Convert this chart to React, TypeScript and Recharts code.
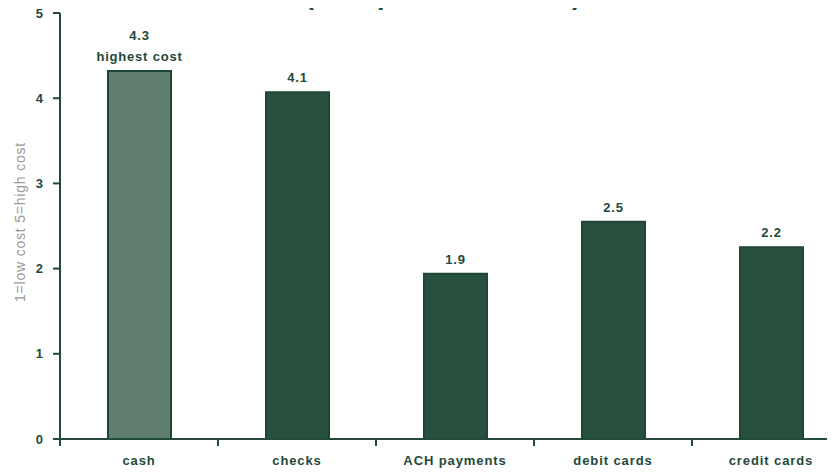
import { BarChart, Bar, XAxis, YAxis, Cell, LabelList } from 'recharts';

const categories = ['cash', 'checks', 'ACH payments', 'debit cards', 'credit cards'];
const costValues = [4.32, 4.07, 1.94, 2.55, 2.25];
const valueLabels = ['4.3', '4.1', '1.9', '2.5', '2.2'];
const yTicks = [0, 1, 2, 3, 4, 5];

const DARK = '#22493a';
const BAR = '#28503f';
const BAR_LIGHT = '#5f7e6d';
const FONT = '"Liberation Sans", Arial, sans-serif';

const CHART_W = 860;
const CHART_H = 476;
const AXIS_W = 60;
const RIGHT = 10;
const BAND = (CHART_W - AXIS_W - RIGHT) / categories.length;

const data = categories.map((name, i) => ({ name, cost: costValues[i], label: valueLabels[i] }));

// tick marks sit between categories, not under them
const CategoryTick = ({ x, y, payload }: any) => {
    const left = x - BAND / 2;
    return (
        <g>
            <line x1={left} y1={y - 8} x2={left} y2={y - 1} stroke={DARK} strokeWidth={2} />
            <text
                x={x}
                y={y + 18}
                textAnchor="middle"
                fill={DARK}
                style={{ fontFamily: FONT, fontSize: 13, fontWeight: 700, letterSpacing: 0.9 }}
            >
                {payload.value}
            </text>
        </g>
    );
};

const ValueLabel = ({ x, y, width, index }: any) => {
    const cx = x + width / 2;
    const style = { fontFamily: FONT, fontSize: 13, fontWeight: 700, letterSpacing: 0.8 };
    if (index === 0) {
        return (
            <g>
                <text x={cx} y={y - 31} textAnchor="middle" fill={DARK} style={style}>{valueLabels[index]}</text>
                <text x={cx} y={y - 10} textAnchor="middle" fill={DARK} style={style}>highest cost</text>
            </g>
        );
    }
    return (
        <text x={cx} y={y - 10} textAnchor="middle" fill={DARK} style={style}>{valueLabels[index]}</text>
    );
};

const AxisTitle = ({ viewBox }: any) => {
    const cx = 20;
    const cy = viewBox.y + viewBox.height / 2 - 4;
    return (
        <text
            x={cx}
            y={cy}
            transform={`rotate(-90 ${cx} ${cy})`}
            textAnchor="middle"
            dominantBaseline="central"
            fill="#9a9a9a"
            style={{ fontFamily: FONT, fontSize: 14, letterSpacing: 0.8 }}
        >
            1=low cost  5=high cost
        </text>
    );
};

export default function App() {
    return (
        <div style={{ position: 'relative', margin: -8, width: 835, height: 476, overflow: 'hidden', background: '#fff' }}>
            {/* title sits mostly above the visible area, as in the original crop */}
            <div
                style={{
                    position: 'absolute',
                    top: -18,
                    left: 0,
                    width: 886,
                    textAlign: 'center',
                    fontFamily: FONT,
                    fontSize: 27,
                    lineHeight: '27px',
                    fontWeight: 700,
                    color: DARK,
                    whiteSpace: 'nowrap',
                }}
            >
                (cost per transaction)
            </div>
            <BarChart
                width={CHART_W}
                height={CHART_H}
                data={data}
                margin={{ top: 13, right: RIGHT, left: 0, bottom: 0 }}
                style={{ position: 'absolute', top: 0, left: 0 }}
            >
                <XAxis
                    dataKey="name"
                    height={37}
                    axisLine={{ stroke: DARK, strokeWidth: 2 }}
                    tickLine={false}
                    tick={<CategoryTick />}
                    interval={0}
                />
                <YAxis
                    domain={[0, 5]}
                    ticks={yTicks}
                    width={AXIS_W}
                    axisLine={{ stroke: DARK, strokeWidth: 2 }}
                    tickLine={{ stroke: DARK, strokeWidth: 2 }}
                    tickSize={7}
                    tickMargin={10}
                    tick={{ fill: DARK, fontFamily: FONT, fontSize: 13, fontWeight: 700 }}
                    label={<AxisTitle />}
                />
                <Bar dataKey="cost" barSize={63} stroke="#1e4634" strokeWidth={2} isAnimationActive={false}>
                    {data.map((d, i) => (
                        <Cell key={d.name} fill={i === 0 ? BAR_LIGHT : BAR} />
                    ))}
                    <LabelList dataKey="label" content={<ValueLabel />} />
                </Bar>
            </BarChart>
        </div>
    );
}
